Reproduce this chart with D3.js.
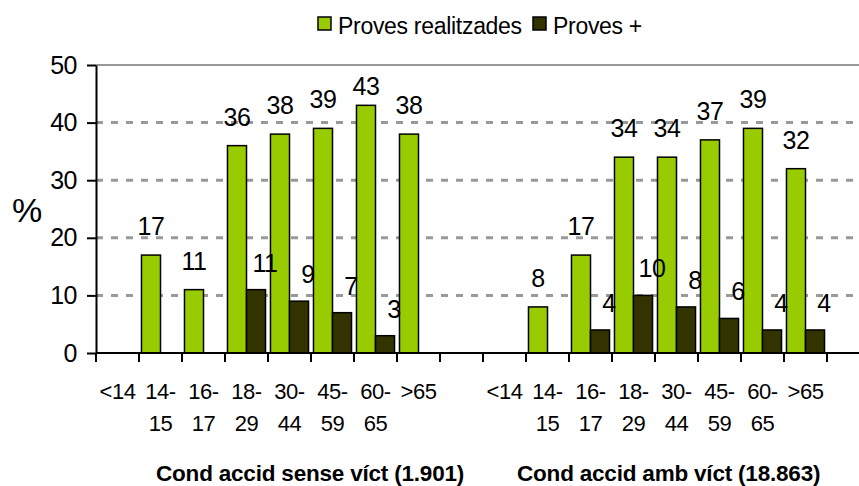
<!DOCTYPE html>
<html lang="ca">
<head>
<meta charset="UTF-8">
<title>Proves realitzades</title>
<script src="https://cdnjs.cloudflare.com/ajax/libs/d3/7.8.5/d3.min.js"></script>
<style>
  body { margin: 0; background: #fff; }
  svg { display: block; font-family: "Liberation Sans", Arial, Helvetica, sans-serif; }
</style>
</head>
<body>
<svg id="chart" width="859" height="486"></svg>
<script>
// data
var ageGroups = ["<14", "14-15", "16-17", "18-29", "30-44", "45-59", "60-65", ">65"];
var groupNames = ["Cond accid sense víct (1.901)", "Cond accid amb víct (18.863)"];
var seriesNames = ["Proves realitzades", "Proves +"];
var testedSense   = [null, 17, 11, 36, 38, 39, 43, 38];
var positiveSense = [null, null, null, 11, 9, 7, 3, null];
var testedAmb     = [null, 8, 17, 34, 34, 37, 39, 32];
var positiveAmb   = [null, null, 4, 10, 8, 6, 4, 4];
var yTicks = [0, 10, 20, 30, 40, 50];
var colors = ["#99cc00", "#333300"];

var svg = d3.select("#chart");
var W = 859, plotLeft = 96, plotTop = 65, plotBottom = 353, step = 43;

// 8 ages + an empty slot, twice
var keys = [];
var rows = [];
[[testedSense, positiveSense], [testedAmb, positiveAmb]].forEach(function(g, gi) {
  ageGroups.forEach(function(a, i) {
    var k = gi + "|" + a;
    keys.push(k);
    rows.push({key: k, label: a, values: [g[0][i], g[1][i]]});
  });
  keys.push("gap" + gi);
});

// flat list of bars
var cells = [];
rows.forEach(function(r) {
  r.values.forEach(function(v, i) {
    if (v != null) cells.push({key: r.key, s: seriesNames[i], v: v, i: i});
  });
});

var x = d3.scaleBand().domain(keys).range([plotLeft, plotLeft + keys.length * step]);
var xs = d3.scaleBand().domain(seriesNames).range([0, x.bandwidth()]).paddingOuter(0.13);
var y = d3.scaleLinear().domain([0, 50]).range([plotBottom, plotTop]);

// grid lines
svg.append("g").selectAll("line")
  .data(yTicks.filter(function(d) { return d > 0; }))
  .enter().append("line")
  .attr("x1", plotLeft).attr("x2", W)
  .attr("y1", function(d) { return y(d); })
  .attr("y2", function(d) { return y(d); })
  .attr("stroke", "#999")
  .attr("stroke-width", function(d) { return d === 50 ? 2 : 3; })
  .attr("stroke-dasharray", function(d) { return d === 50 ? null : "7,8"; });

// bars
svg.append("g").selectAll("rect")
  .data(cells)
  .enter().append("rect")
  .attr("x", function(d) { return x(d.key) + xs(d.s); })
  .attr("width", xs.bandwidth())
  .attr("y", function(d) { return y(d.v); })
  .attr("height", function(d) { return y(0) - y(d.v); })
  .attr("fill", function(d) { return colors[d.i]; })
  .attr("stroke", "#000")
  .attr("stroke-width", 1.5);

// y axis
var yAxis = d3.axisLeft(y).tickValues(yTicks).tickSize(9).tickSizeOuter(0).tickPadding(10);
var yg = svg.append("g").attr("transform", "translate(" + plotLeft + ",0)").call(yAxis);
yg.select(".domain").attr("stroke", "#000").attr("stroke-width", 2);
yg.selectAll(".tick line").attr("stroke", "#000").attr("stroke-width", 2);
yg.selectAll(".tick text")
  .attr("font-size", 25).attr("letter-spacing", -0.5)
  .attr("fill", "#000");
yg.attr("font-family", null).attr("font-size", null);

svg.append("text")
  .attr("x", 27).attr("y", 222)
  .attr("text-anchor", "middle")
  .attr("font-size", 34)
  .text("%");

// x axis
svg.append("line")
  .attr("x1", plotLeft).attr("x2", W)
  .attr("y1", y(0)).attr("y2", y(0))
  .attr("stroke", "#000").attr("stroke-width", 2);

var bounds = keys.map(function(k) { return x(k); }).concat([x.range()[1]]);
svg.append("g").selectAll("line")
  .data(bounds).enter().append("line")
  .attr("x1", function(d) { return d; }).attr("x2", function(d) { return d; })
  .attr("y1", y(0)).attr("y2", y(0) + 9)
  .attr("stroke", "#000").attr("stroke-width", 2);

var xl = svg.append("g").selectAll("text")
  .data(rows).enter().append("text")
  .attr("text-anchor", "middle")
  .attr("font-size", 22)
  .attr("letter-spacing", -0.5)
  .attr("transform", function(d) { return "translate(" + (x(d.key) + x.bandwidth() / 2) + ",0)"; });

xl.selectAll("tspan")
  .data(function(d) {
    var p = d.label.indexOf("-");
    return p > 0 ? [d.label.slice(0, p + 1), d.label.slice(p + 1)] : [d.label];
  })
  .enter().append("tspan")
  .attr("x", 0)
  .attr("y", function(d, i) { return 399 + i * 32; })
  .text(function(d) { return d; });

// value labels, on top of every bar
svg.append("g").selectAll("text")
  .data(cells)
  .enter().append("text")
  .attr("x", function(d) { return x(d.key) + xs(d.s) + xs.bandwidth() / 2 + (d.i === 1 ? 9 : 0); })
  .attr("y", function(d) {
    return d.i === 0 ? Math.max(y(d.v) - 20, y(50) + 30) : y(d.v) - 18;
  })
  .attr("text-anchor", "middle")
  .attr("font-size", 25)
  .attr("letter-spacing", -0.5)
  .attr("fill", "#000")
  .text(function(d) { return d.v; });

// group titles
svg.append("g").selectAll("text")
  .data(groupNames).enter().append("text")
  .attr("x", function(d, i) { return [156, 517][i]; })
  .attr("y", 481)
  .attr("font-size", 22.5)
  .attr("font-weight", "bold")
  .attr("letter-spacing", -0.2)
  .text(function(d) { return d; });

// legend
var lg = svg.append("g").selectAll("g")
  .data(seriesNames).enter().append("g")
  .attr("transform", function(d, i) { return "translate(" + [318, 533][i] + ",17)"; });
lg.append("rect")
  .attr("width", 13).attr("height", 13)
  .attr("fill", function(d, i) { return colors[i]; })
  .attr("stroke", "#000").attr("stroke-width", 1.5);
lg.append("text")
  .attr("x", 20).attr("y", 17)
  .attr("font-size", 23)
  .attr("letter-spacing", -0.3)
  .text(function(d) { return d; });
</script>
</body>
</html>
